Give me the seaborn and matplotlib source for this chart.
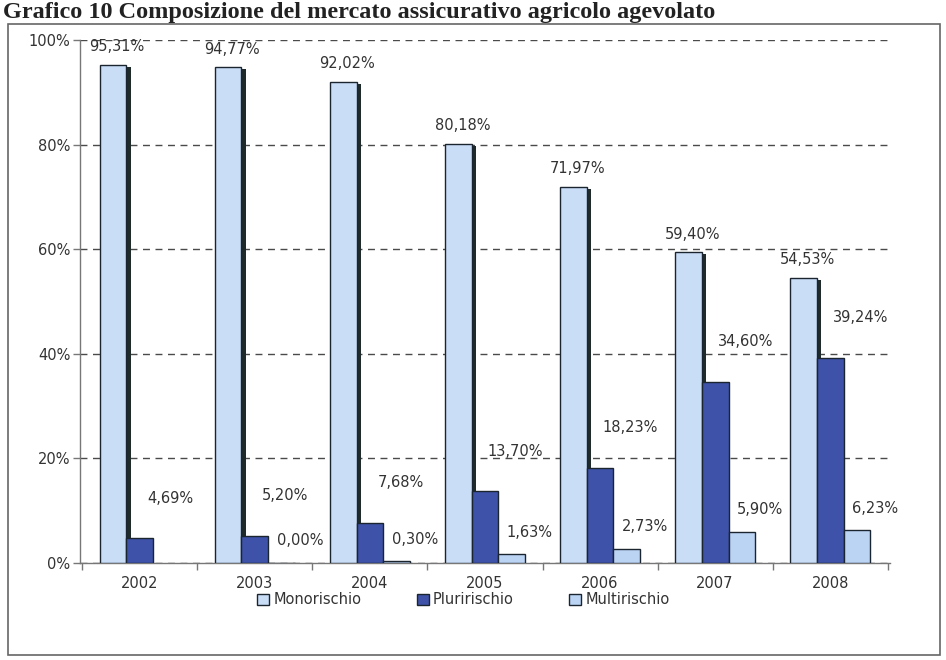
import numpy as np
import pandas as pd
import seaborn as sns
import matplotlib.pyplot as plt
import matplotlib.patheffects as pe
from matplotlib.patches import Rectangle

# dati
anni = ['2002', '2003', '2004', '2005', '2006', '2007', '2008']
monorischio = [95.31, 94.77, 92.02, 80.18, 71.97, 59.40, 54.53]
pluririschio = [4.69, 5.20, 7.68, 13.70, 18.23, 34.60, 39.24]
multirischio = [np.nan, 0.00, 0.30, 1.63, 2.73, 5.90, 6.23]
serie = ['Monorischio', 'Pluririschio', 'Multirischio']
colori = ['#c9ddf7', '#3d52a8', '#bcd4f4']

df = pd.DataFrame({
    'anno': anni * 3,
    'serie': [s for s in serie for _ in anni],
    'valore': monorischio + pluririschio + multirischio,
})

sns.set_style('white')
plt.rcParams['font.family'] = ['DejaVu Sans']

fig = plt.figure(figsize=(9.46, 6.6), dpi=100)
ax = fig.add_axes([80 / 946, 1 - 563 / 660, 810 / 946, 523 / 660])

sns.barplot(data=df, x='anno', y='valore', hue='serie', hue_order=serie, order=anni,
            palette=dict(zip(serie, colori)), width=0.7, edgecolor='#1b2530',
            linewidth=1.0, saturation=1, ax=ax, legend=True, zorder=3)

# ombra scura a destra delle barre Monorischio
for p in ax.containers[0]:
    p.set_path_effects([pe.SimplePatchShadow(offset=(3, -1.5), shadow_rgbFace='#1f2b2b', alpha=1),
                        pe.Normal()])

ax.set_ylim(0, 100)
ax.set_xlim(-0.52, 6.52)
ax.set_yticks(range(0, 101, 20))
ax.set_yticklabels([f'{v}%' for v in range(0, 101, 20)])
ax.set_xlabel('')
ax.set_ylabel('')

ax.yaxis.grid(True, linestyle=(0, (5, 4)), color='#4a4a4a', linewidth=1.0, zorder=0)
ax.set_axisbelow(True)
ax.xaxis.grid(False)

for s in ['top', 'right']:
    ax.spines[s].set_visible(False)
for s in ['left', 'bottom']:
    ax.spines[s].set_color('#777777')
    ax.spines[s].set_linewidth(1.0)

ax.tick_params(axis='y', length=5, width=1, color='#777777', labelsize=10.5,
               labelcolor='#333333', left=True, pad=2)
ax.tick_params(axis='x', length=0, labelsize=10.5, labelcolor='#333333', pad=9)
ax.set_xticks(np.arange(-0.5, 7, 1), minor=True)
ax.tick_params(axis='x', which='minor', length=5, width=1, color='#777777', bottom=True)

# etichette dei valori (abbinate per posizione, la serie Multirischio non ha il 2002)
offsets = [(3, 13), (22, 29), (13, 16)]
for cont, vals, off in zip(ax.containers, [monorischio, pluririschio, multirischio], offsets):
    for p in cont:
        xc = p.get_x() + p.get_width() / 2
        v = vals[int(round(xc))]
        if np.isnan(v):
            continue
        ax.annotate(f'{v:.2f}'.replace('.', ',') + '%', xy=(xc, v), xytext=off,
                    textcoords='offset points', ha='center', va='center',
                    fontsize=10.5, color='#333333', annotation_clip=False)

leg = ax.legend(loc='center', bbox_to_anchor=(0.49, 0.091), bbox_transform=fig.transFigure,
                ncol=3, frameon=False, fontsize=10.5, handlelength=0.8, handleheight=0.8,
                columnspacing=3.8, handletextpad=0.3)
for t in leg.get_texts():
    t.set_color('#333333')

# cornice del grafico
fig.patches.append(Rectangle((8 / 946, 1 - 655 / 660), 932 / 946, 631 / 660,
                             transform=fig.transFigure, fill=False,
                             edgecolor='#666666', linewidth=1.2))

fig.text(3 / 946, 1 - 18 / 660, 'Grafico 10 Composizione del mercato assicurativo agricolo agevolato',
         family='Liberation Serif', fontweight='bold', fontsize=17.5, va='baseline',
         ha='left', color='#222222')

fig.savefig('out.png', dpi=100)
